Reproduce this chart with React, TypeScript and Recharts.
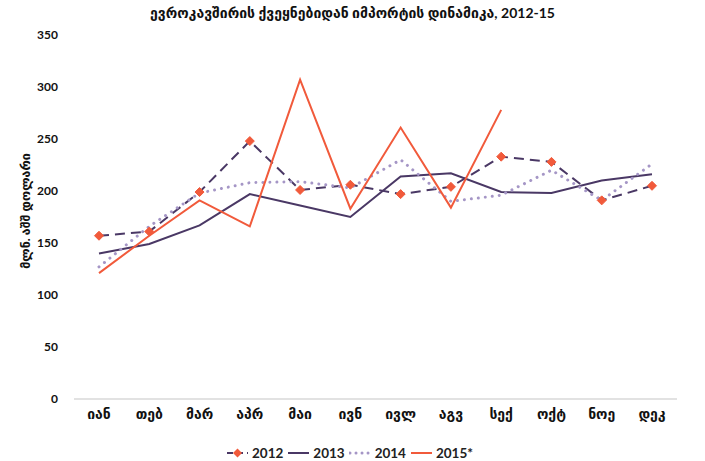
import React from 'react';
import { LineChart, Line, XAxis, YAxis, Legend } from 'recharts';

const months = ['იან', 'თებ', 'მარ', 'აპრ', 'მაი', 'ივნ', 'ივლ', 'აგვ', 'სექ', 'ოქტ', 'ნოე', 'დეკ'];
const s2012 = [157, 161, 199, 248, 201, 206, 197, 204, 233, 228, 191, 205];
const s2013 = [140, 149, 167, 197, 186, 175, 214, 217, 199, 198, 210, 216];
const s2014 = [127, 166, 198, 208, 209, 203, 230, 190, 196, 220, 191, 226];
const s2015 = [121, 157, 191, 166, 307, 183, 261, 184, 278, null, null, null];
const yTicks = [0, 50, 100, 150, 200, 250, 300, 350];

const data = months.map((m, i) => ({
  month: m,
  y2012: s2012[i],
  y2013: s2013[i],
  y2014: s2014[i],
  y2015: s2015[i],
}));

const ORANGE = '#F15A3B';
const DARK = '#4A3865';
const LIGHT = '#A596C6';
const FONT = 'Lato, "DejaVu Sans", sans-serif';

const Diamond = (props: any) => {
  const { cx, cy } = props;
  if (cx == null || cy == null) return null;
  const r = 4.5;
  return (
    <polygon
      points={`${cx},${cy - r} ${cx + r},${cy} ${cx},${cy + r} ${cx - r},${cy}`}
      fill={ORANGE}
      stroke={ORANGE}
    />
  );
};

const legendItems = [
  { key: '2012', color: DARK, dash: '6 4', marker: true, width: 2 },
  { key: '2013', color: DARK, dash: undefined, marker: false, width: 2 },
  { key: '2014', color: LIGHT, dash: '0.01 6', marker: false, width: 3 },
  { key: '2015*', color: ORANGE, dash: undefined, marker: false, width: 2 },
];

const LegendContent = () => (
  <div style={{ display: 'flex', justifyContent: 'center', alignItems: 'center', height: 34, paddingTop: 18, paddingLeft: 26, boxSizing: 'border-box', fontFamily: FONT, fontWeight: 700, fontSize: 13.5, lineHeight: '16px', color: '#222' }}>
    {legendItems.map((it) => (
      <div key={it.key} style={{ display: 'flex', alignItems: 'center', marginRight: 4 }}>
        <svg width={23} height={12} style={{ marginRight: 3 }}>
          <line x1={1} y1={6} x2={22} y2={6} stroke={it.color} strokeWidth={it.width} strokeDasharray={it.dash} strokeLinecap={it.width === 3 ? 'round' : 'butt'} />
          {it.marker && <polygon points="11.5,1.5 16,6 11.5,10.5 7,6" fill={ORANGE} />}
        </svg>
        <span>{it.key}</span>
      </div>
    ))}
  </div>
);

export default function App() {
  return (
    <div style={{ position: 'absolute', left: 0, top: 0, width: 705, height: 461, background: '#fff' }}>
      <div style={{ position: 'absolute', top: 4, left: 0, width: 705, textAlign: 'center', fontFamily: FONT, fontWeight: 700, fontSize: 14, color: '#111' }}>
        ევროკავშირის ქვეყნებიდან იმპორტის დინამიკა, 2012-15
      </div>
      <LineChart width={705} height={461} data={data} margin={{ top: 35, right: 28, bottom: 0, left: 0 }}>
        <XAxis
          dataKey="month"
          axisLine={{ stroke: '#D9D9D9', strokeWidth: 1.5 }}
          tickLine={false}
          height={28}
          padding={{ left: 25, right: 25 }}
          tick={{ fill: '#111', fontSize: 14, fontWeight: 700, fontFamily: FONT }}
          tickMargin={4}
          interval={0}
        />
        <YAxis
          domain={[0, 350]}
          ticks={yTicks}
          axisLine={false}
          tickLine={false}
          width={74}
          tick={{ fill: '#111', fontSize: 12, fontWeight: 700, fontFamily: FONT }}
          tickMargin={10}
          label={{ value: 'მლნ. აშშ დოლარი', angle: -90, position: 'insideLeft', offset: 26, dy: -6, style: { textAnchor: 'middle', fontFamily: FONT, fontWeight: 700, fontSize: 12.5, fill: '#111' } }}
        />
        <Legend verticalAlign="bottom" height={34} content={<LegendContent />} />
        <Line dataKey="y2012" name="2012" stroke={DARK} strokeWidth={2} strokeDasharray="10 6" dot={<Diamond />} activeDot={false} isAnimationActive={false} />
        <Line dataKey="y2013" name="2013" stroke={DARK} strokeWidth={2} dot={false} activeDot={false} isAnimationActive={false} />
        <Line dataKey="y2014" name="2014" stroke={LIGHT} strokeWidth={3} strokeLinecap="round" strokeDasharray="0.01 7" dot={false} activeDot={false} isAnimationActive={false} />
        <Line dataKey="y2015" name="2015*" stroke={ORANGE} strokeWidth={2} dot={false} activeDot={false} isAnimationActive={false} />
      </LineChart>
    </div>
  );
}
